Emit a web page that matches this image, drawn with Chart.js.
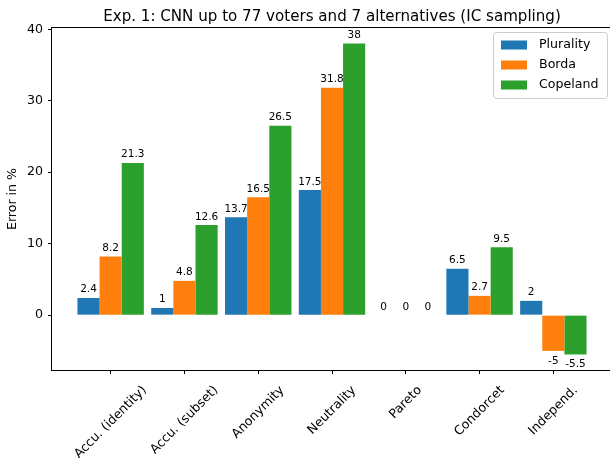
<!DOCTYPE html>
<html>
<head>
<meta charset="utf-8">
<script src="https://cdn.jsdelivr.net/npm/chart.js@4/dist/chart.umd.min.js"></script>
<style>
  html, body { margin: 0; padding: 0; background: #fff; }
  #wrap { width: 610px; height: 458px; overflow: hidden; position: relative; }
  #chart { display: block; }
</style>
</head>
<body>
<div id="wrap"><canvas id="chart" width="620" height="458"></canvas></div>
<script>
const titleText = 'Exp. 1: CNN up to 77 voters and 7 alternatives (IC sampling)';
const categories = ['Accu. (identity)', 'Accu. (subset)', 'Anonymity', 'Neutrality', 'Pareto', 'Condorcet', 'Independ.'];
const seriesNames = ['Plurality', 'Borda', 'Copeland'];
const plurality = [2.4, 1, 13.7, 17.5, 0, 6.5, 2];
const borda = [8.2, 4.8, 16.5, 31.8, 0, 2.7, -5];
const copeland = [21.3, 12.6, 26.5, 38, 0, 9.5, -5.5];
const yTicks = [0, 10, 20, 30, 40];

const colors = ['#1f77b4', '#ff7f0e', '#2ca02c'];
const FONT = '"DejaVu Sans", sans-serif';
const ctx = document.querySelector('#chart').getContext('2d');

const toPoints = (vals) => vals.map((v, i) => ({ x: i, y: v }));

// matplotlib-like extras: frame, title, legend, value labels, rotated x labels
const extras = {
  id: 'extras',
  afterDatasetsDraw(chart) {
    const c = chart.ctx;
    c.save();
    c.fillStyle = '#000';
    c.font = '10.5px ' + FONT;
    c.textAlign = 'center';
    chart.data.datasets.forEach((ds, di) => {
      const meta = chart.getDatasetMeta(di);
      meta.data.forEach((bar, i) => {
        const v = ds.data[i].y;
        c.textBaseline = 'alphabetic';
        if (v < 0) c.fillText(String(v), bar.x, bar.y + 13);
        else c.fillText(String(v), bar.x, bar.y - 5.5);
      });
    });
    c.restore();
  },
  afterDraw(chart) {
    const c = chart.ctx;
    const a = chart.chartArea;
    c.save();
    // frame
    c.strokeStyle = '#000';
    c.lineWidth = 1;
    c.strokeRect(a.left - 0.5, a.top - 0.5, a.right - a.left + 1, a.bottom - a.top + 1);

    // title
    c.fillStyle = '#000';
    c.font = '15.1px ' + FONT;
    c.textAlign = 'center';
    c.textBaseline = 'alphabetic';
    c.fillText(titleText, (a.left + a.right) / 2, 21);

    // x tick labels rotated 45deg, centred on tick
    const xs = chart.scales.x;
    c.font = '12.6px ' + FONT;
    c.textBaseline = 'middle';
    categories.forEach((lab, i) => {
      const x = xs.getPixelForValue(i);
      const w = c.measureText(lab).width;
      const cy = a.bottom + 13 + (w + 15) / (2 * Math.SQRT2);
      c.save();
      c.translate(x, cy);
      c.rotate(-Math.PI / 4);
      c.fillText(lab, 0, 0);
      c.restore();
    });

    // legend
    const lx = 493.5, ly = 32.5, lw = 114, lh = 66;
    c.fillStyle = 'rgba(255,255,255,0.8)';
    c.strokeStyle = '#cccccc';
    c.beginPath();
    c.roundRect(lx, ly, lw, lh, 3);
    c.fill();
    c.stroke();
    c.textAlign = 'left';
    seriesNames.forEach((name, i) => {
      const cy = 45 + i * 20;
      c.fillStyle = colors[i];
      c.fillRect(501, cy - 4.5, 26, 9);
      c.fillStyle = '#000';
      c.fillText(name, 539, cy);
    });
    c.restore();
  }
};

const chart = new Chart(ctx, {
  type: 'bar',
  data: {
    datasets: [
      { label: seriesNames[0], data: toPoints(plurality), backgroundColor: colors[0] },
      { label: seriesNames[1], data: toPoints(borda), backgroundColor: colors[1] },
      { label: seriesNames[2], data: toPoints(copeland), backgroundColor: colors[2] },
    ],
  },
  options: {
    responsive: false,
    animation: false,
    events: [],
    categoryPercentage: 0.9,
    barPercentage: 1.0,
    layout: { padding: { top: 28, right: 8, bottom: 0, left: 0 } },
    plugins: { legend: { display: false }, tooltip: { enabled: false }, title: { display: false } },
    scales: {
      x: {
        type: 'linear',
        offset: false,
        min: -0.795,
        max: 6.795,
        afterBuildTicks: (s) => { s.ticks = categories.map((_, i) => ({ value: i })); },
        afterFit: (s) => { s.height = 88; },
        border: { display: false },
        grid: { offset: false, drawOnChartArea: false, drawTicks: true, tickLength: 4, color: '#000' },
        ticks: { display: false },
      },
      y: {
        min: -7.675,
        max: 40.175,
        afterBuildTicks: (s) => { s.ticks = yTicks.map((v) => ({ value: v })); },
        afterFit: (s) => { s.width = 52; },
        border: { display: false },
        grid: { drawOnChartArea: false, drawTicks: true, tickLength: 4, color: '#000' },
        ticks: { color: '#000', padding: 5, font: { family: FONT, size: 12.6 } },
        title: {
          display: true,
          text: 'Error in %',
          color: '#000',
          padding: { top: 5, bottom: 0 },
          font: { family: FONT, size: 12.6 },
        },
      },
    },
  },
  plugins: [extras],
});
</script>
</body>
</html>
